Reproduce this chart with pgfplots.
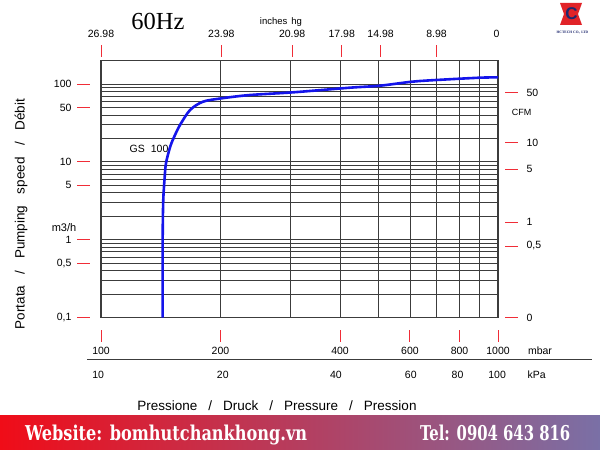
\documentclass[border=0pt]{standalone}
\usepackage{pgfplots}
\pgfplotsset{compat=1.18}
\usepackage{fontspec}
\setmainfont{Liberation Sans}
\newfontfamily\serifHz{Liberation Serif}
\newfontfamily\slab{DejaVu Serif Condensed}
\definecolor{gridc}{RGB}{60,60,60}
\definecolor{tickred}{RGB}{240,45,55}
\definecolor{curveblue}{RGB}{20,20,235}
\definecolor{banL}{RGB}{240,12,24}
\definecolor{banR}{RGB}{122,112,166}
\definecolor{logored}{RGB}{225,35,40}
\definecolor{logonavy}{RGB}{30,40,110}
\newcommand{\fs}[1]{\fontsize{#1}{#1}\selectfont}
\begin{document}
\begin{tikzpicture}[x=1pt,y=1pt]
\useasboundingbox (0,0) rectangle (600,450);
\fill[white] (0,0) rectangle (600,450);
\begin{axis}[
  at={(101pt,132.5pt)}, anchor=south west,
  scale only axis, width=397pt, height=256.9pt,
  xmode=log, ymode=log,
  xmin=100, xmax=1000, ymin=0.1, ymax=200,
  xtick={100,200,400,600,800,1000},
  xticklabels={100,200,400,600,800,1000},
  minor xtick={300,500,700,900},
  ytick={0.1,0.5,1,5,10,50,100},
  yticklabels={{0,1},{0,5},1,5,10,50,100},
  minor ytick={0.2,0.3,0.4,0.6,0.7,0.8,0.9,2,3,4,6,7,8,9,20,30,40,60,70,80,90},
  grid=both,
  major grid style={line width=0.8pt, draw=gridc},
  minor grid style={line width=0.8pt, draw=gridc},
  tick style={draw=none},
  axis line style={line width=1.1pt, draw=gridc},
  tick label style={font=\fs{10.5}, text=black},
  yticklabel style={anchor=east, xshift=-26pt},
  xticklabel style={anchor=north, yshift=-26pt},
  clip=false,
]
\addplot[curveblue, line width=2.6pt, smooth] coordinates {
(143.0,0.1) (143.0,0.5) (143.0,1.0) (143.2,2.07) (143.6,3.56) (144.5,5.85)
(145.8,9.66) (149.6,16.0) (153.6,22.1) (158.1,29.7) (167.6,46.3) (180.7,59.3)
(201.4,65.5) (237,72.2) (304.6,78.2) (423.6,89.7) (504,95.1) (606,107)
(701,112.7) (901,120.6) (1000,121.6)
};
% left ticks
\pgfplotsinvokeforeach{0.1,0.5,1,5,10,50,100}{
  \draw[tickred, line width=0.9pt] ([xshift=-24pt]axis cs:100,#1) -- ([xshift=-11pt]axis cs:100,#1);
}
% right ticks (CFM)
\pgfplotsinvokeforeach{0.1,0.83,1.67,8.1,17.6,78}{
  \draw[tickred, line width=0.9pt] ([xshift=7pt]axis cs:1000,#1) -- ([xshift=20pt]axis cs:1000,#1);
}
\node[anchor=west, font=\fs{10.5}] at ([xshift=25pt]axis cs:1000,78) {50};
\node[anchor=west, font=\fs{10.5}] at ([xshift=25pt]axis cs:1000,17.6) {10};
\node[anchor=west, font=\fs{10.5}] at ([xshift=25pt]axis cs:1000,8.1) {5};
\node[anchor=west, font=\fs{10.5}] at ([xshift=25pt]axis cs:1000,1.67) {1};
\node[anchor=west, font=\fs{10.5}] at ([xshift=25pt]axis cs:1000,0.83) {0,5};
\node[anchor=west, font=\fs{10.5}] at ([xshift=25pt]axis cs:1000,0.1) {0};
\node[font=\fs{9}] at ([xshift=23.5pt]axis cs:1000,42.8) {CFM};
% top ticks (inches hg)
\pgfplotsinvokeforeach{100,201,303,404,506,700}{
  \draw[tickred, line width=0.9pt] ([yshift=4pt]axis cs:#1,200) -- ([yshift=16pt]axis cs:#1,200);
}
\node[font=\fs{10.5}] at ([yshift=26.4pt]axis cs:100,200) {26.98};
\node[font=\fs{10.5}] at ([yshift=26.4pt]axis cs:201,200) {23.98};
\node[font=\fs{10.5}] at ([yshift=26.4pt]axis cs:303,200) {20.98};
\node[font=\fs{10.5}] at ([yshift=26.4pt]axis cs:404,200) {17.98};
\node[font=\fs{10.5}] at ([yshift=26.4pt]axis cs:506,200) {14.98};
\node[font=\fs{10.5}] at ([yshift=26.4pt]axis cs:700,200) {8.98};
\node[font=\fs{10.5}] at ([yshift=26.4pt]axis cs:992,200) {0};
\node[font=\fs{9.5}] at ([yshift=38.7pt]axis cs:284,200) {inches\hspace{4pt}hg};
% bottom ticks
\pgfplotsinvokeforeach{100,200,400,600,800,1000}{
  \draw[tickred, line width=0.9pt] ([yshift=-12.5pt]axis cs:#1,0.1) -- ([yshift=-24.5pt]axis cs:#1,0.1);
}
\node[font=\fs{10.5}] at ([xshift=42pt,yshift=-33.2pt]axis cs:1000,0.1) {mbar};
\draw[gridc, line width=1pt] ([xshift=-14pt,yshift=-41.8pt]axis cs:100,0.1) -- ([xshift=94pt,yshift=-41.8pt]axis cs:1000,0.1);
\node[font=\fs{10.5}] at ([yshift=-57.5pt]axis cs:98.4,0.1) {10};
\node[font=\fs{10.5}] at ([yshift=-57.5pt]axis cs:202.7,0.1) {20};
\node[font=\fs{10.5}] at ([yshift=-57.5pt]axis cs:390.7,0.1) {40};
\node[font=\fs{10.5}] at ([yshift=-57.5pt]axis cs:603,0.1) {60};
\node[font=\fs{10.5}] at ([yshift=-57.5pt]axis cs:791,0.1) {80};
\node[font=\fs{10.5}] at ([yshift=-57.5pt]axis cs:995,0.1) {100};
\node[font=\fs{10.5}] at ([xshift=38.7pt,yshift=-57.5pt]axis cs:1000,0.1) {kPa};
% other labels
\node[font=\fs{11}, inner sep=1pt] at ([xshift=-37pt]axis cs:100,1.45) {m3/h};
\node[font=\fs{10.5}] at (axis cs:132.1,14.6) {GS\hspace{6pt}100};
\end{axis}
% axis titles
\node[font=\fs{13.5}] at (277,44) {Pressione\hspace{11pt}/\hspace{11pt}Druck\hspace{11pt}/\hspace{11pt}Pressure\hspace{11pt}/\hspace{11pt}Pression};
\node[font=\fs{13.5}, rotate=90] at (21,236) {Portata\hspace{11.5pt}/\hspace{11.5pt}Pumping\hspace{11.5pt}speed\hspace{11.5pt}/\hspace{11.5pt}Débit};
\node[font=\serifHz\fs{24.5}, anchor=base] at (158,420) {60Hz};
% logo
\fill[logored] (560,447) -- (582,447) -- (578,436) -- (582,425) -- (560,425) -- (564,436) -- cycle;
\node[font=\bfseries\fs{17}, text=logonavy] at (571.5,436) {C};
\node[font=\serifHz\bfseries\fs{3.6}, text=logonavy] at (572.5,417) {HCTECH CO., LTD};
% banner
\shade[left color=banL, right color=banR] (0,0) rectangle (600,34);
\node[anchor=base west, text=white, inner sep=0pt] at (25,9.5) {\resizebox{282pt}{15.5pt}{\slab\bfseries Website: bomhutchankhong.vn}};
\node[anchor=base west, text=white, inner sep=0pt] at (420,9.5) {\resizebox{150pt}{15.5pt}{\slab\bfseries Tel: 0904 643 816}};
\end{tikzpicture}
\end{document}
